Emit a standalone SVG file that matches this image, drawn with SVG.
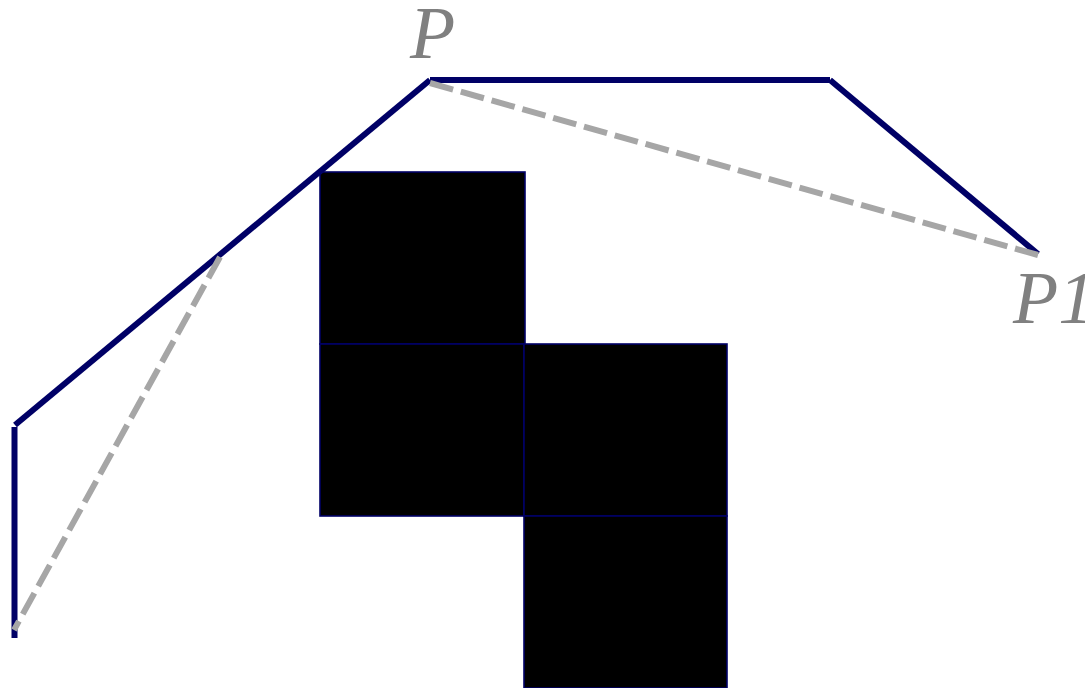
<svg xmlns="http://www.w3.org/2000/svg" width="1085" height="688" viewBox="0 0 1085 688">
  <style>
    .cell { fill: #000000; stroke: #000066; stroke-width: 1.6; }
    .path { stroke: #000066; stroke-width: 6; fill: none; stroke-linecap: butt; }
    .dash { stroke: #a6a6a6; stroke-width: 6; fill: none; stroke-dasharray: 24 8; }
    .lbl { font-family: "Liberation Serif", "DejaVu Serif", serif; font-style: italic; font-size: 74px; fill: #808080; }
  </style>
  <rect width="1085" height="688" fill="#ffffff"/>
  <g id="cells">
    <rect id="cell1" class="cell" x="320" y="172" width="205" height="172"/>
    <rect id="cell2" class="cell" x="320" y="344" width="204" height="172"/>
    <rect id="cell3" class="cell" x="524" y="344" width="203" height="172"/>
    <rect id="cell4" class="cell" x="524" y="516" width="203" height="172"/>
  </g>
  <g id="connectors">
    <line class="path" x1="14.5" y1="638" x2="14.5" y2="427"/>
    <line class="path" x1="15" y1="425" x2="430" y2="80"/>
    <line class="path" x1="430" y1="80" x2="830" y2="80"/>
    <line class="path" x1="830" y1="80" x2="1038" y2="254"/>
    <line class="dash" x1="430" y1="83" x2="1038" y2="255"/>
    <line class="dash" x1="220" y1="257" x2="14" y2="630"/>
  </g>
  <g id="label-P">
    <text class="lbl" x="410" y="58">P</text>
  </g>
  <g id="label-P1">
    <text class="lbl" x="1013" y="323">P1</text>
  </g>
</svg>
